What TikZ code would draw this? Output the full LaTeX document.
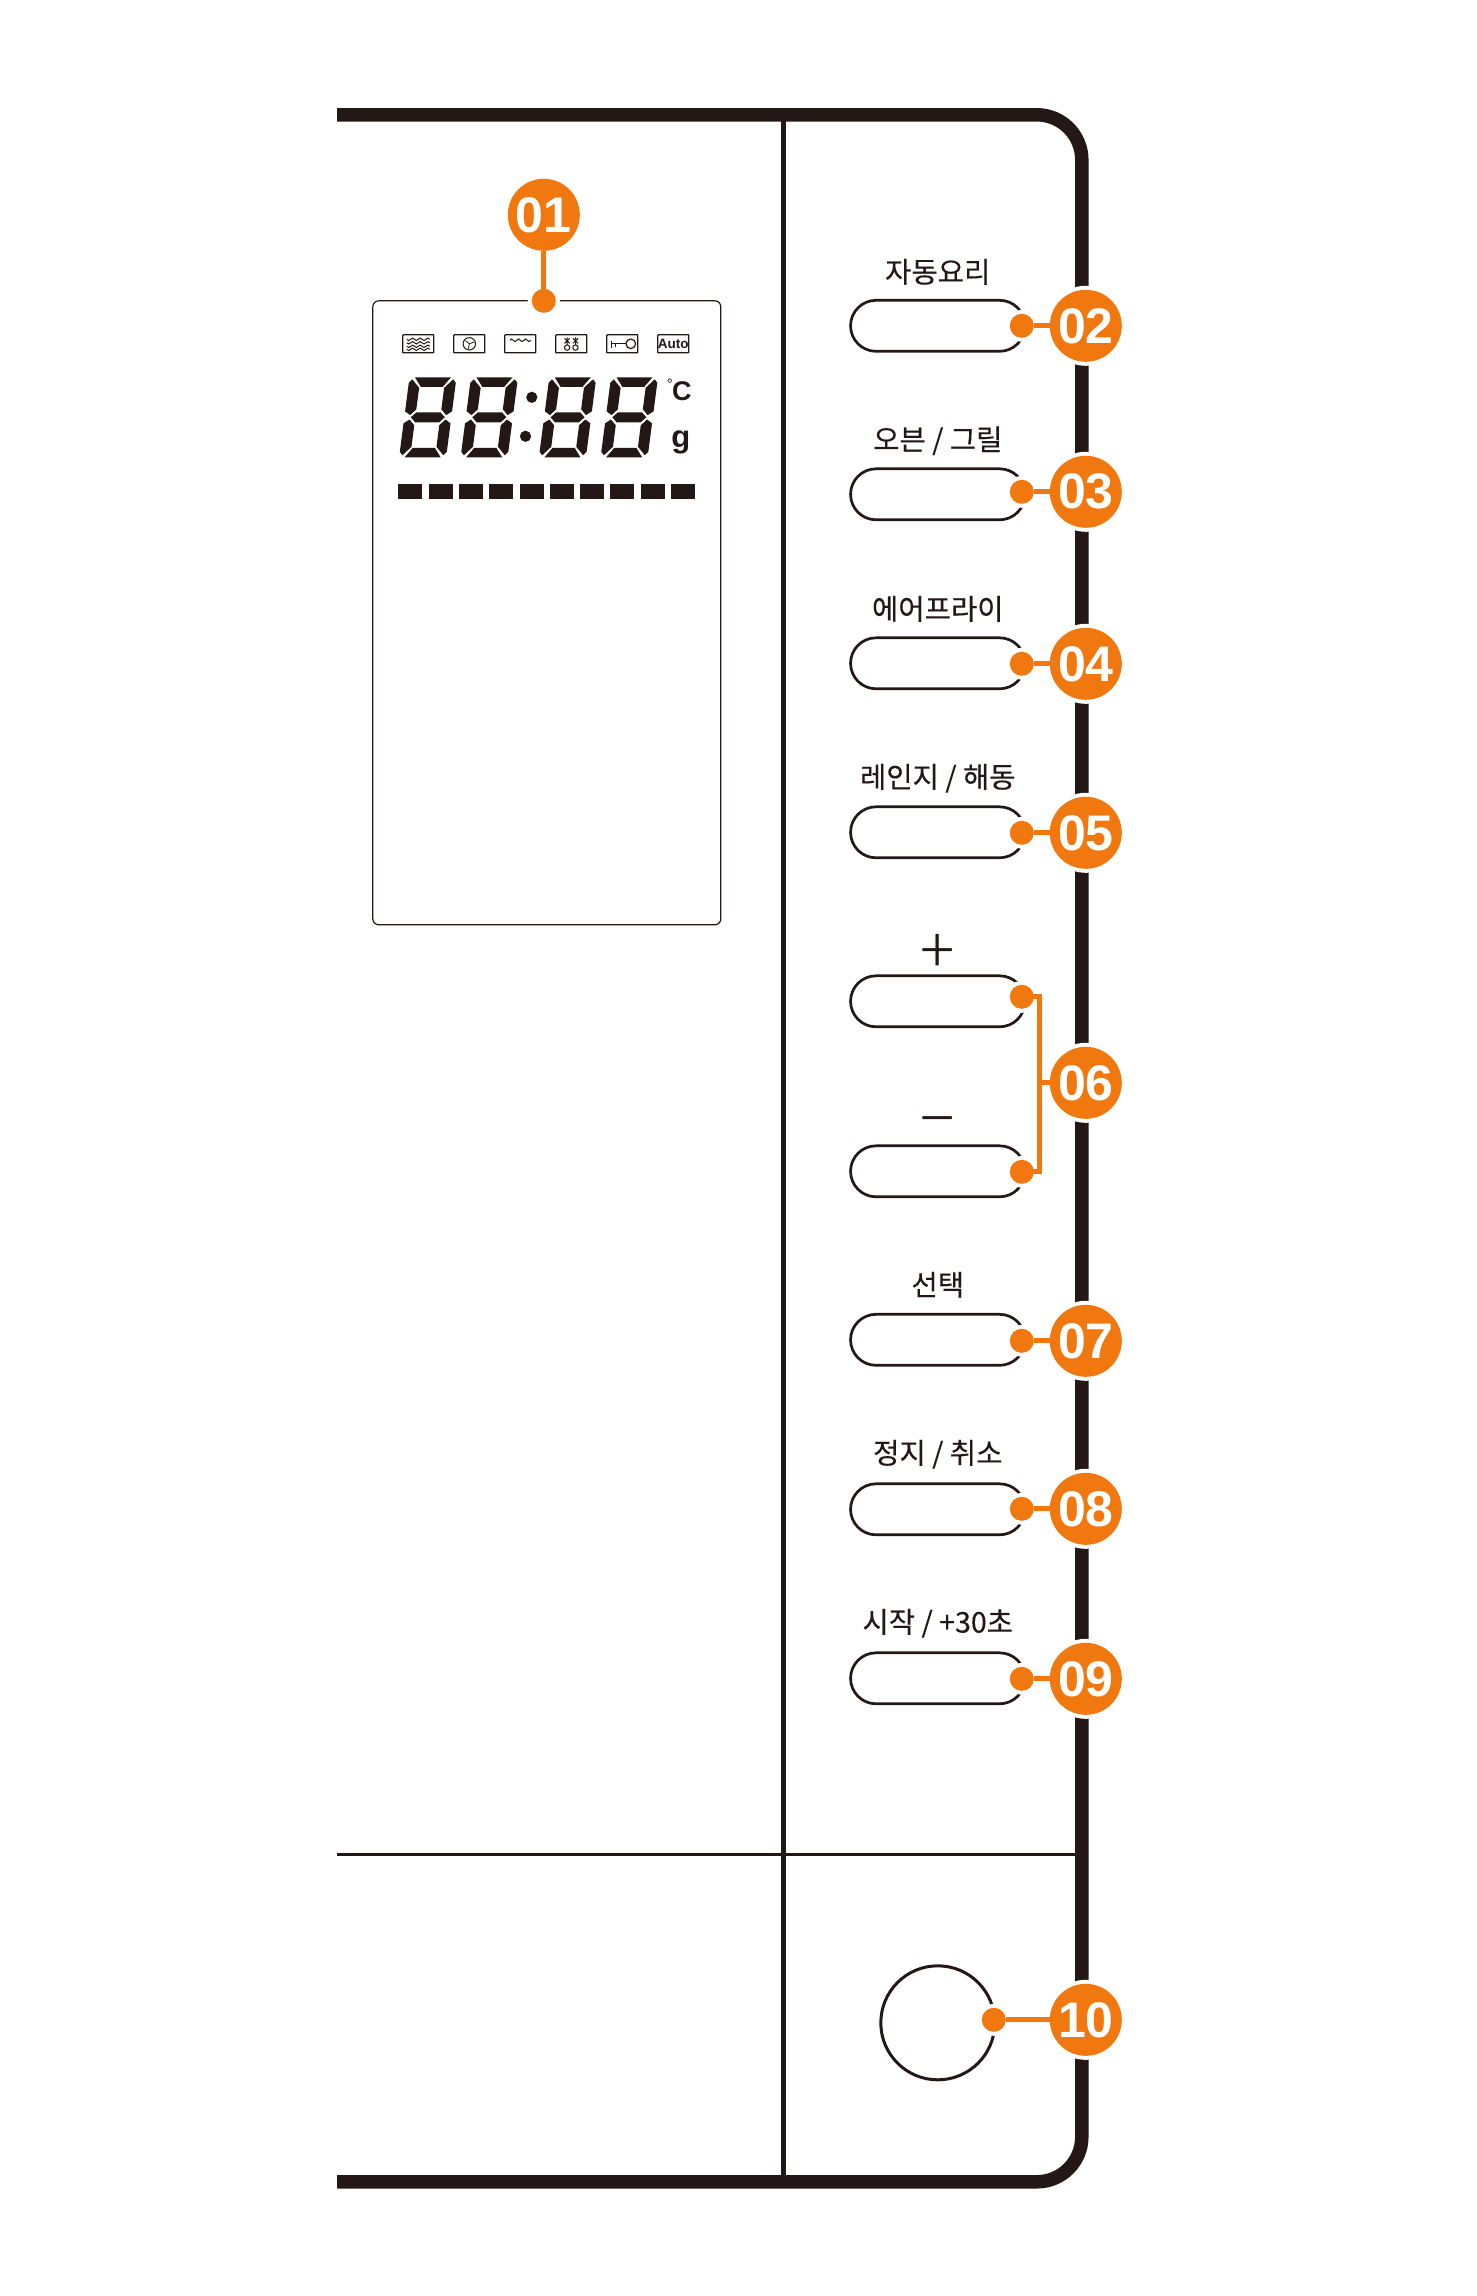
\documentclass[tikz,border=0pt]{standalone}
\usepackage{fontspec}
\setmainfont{Liberation Sans}
\newfontfamily\krfont[FakeBold=0.25]{Noto Sans CJK KR}
\newfontfamily\thinfont{Noto Sans CJK KR Light}
\definecolor{ink}{HTML}{231815}
\definecolor{tag}{HTML}{F0780F}
\newcommand\pxfont[1]{\fontsize{#1}{#1}\selectfont}
\tikzset{
  x=1pt,y=-1pt,
  halo/.style={preaction={draw=white,line width=8pt}},
  badge/.style={circle,fill=tag,halo,inner sep=0pt,outer sep=0pt,minimum size=72pt,text=white,font=\bfseries\pxfont{50}},
  tagdot/.style={circle,fill=tag,halo,inner sep=0pt,outer sep=0pt,minimum size=24pt},
  keypill/.style={draw=ink,line width=2.7pt,rounded corners=25.5pt,minimum width=174.5pt,minimum height=51pt,inner sep=0pt,outer sep=0pt},
  keylabel/.style={text=ink,font=\krfont\pxfont{28.6},inner sep=0pt},
  link/.style={draw=tag,line width=5pt},
  icon/.style={draw=ink,line width=1.3pt,rounded corners=.6pt},
  iconline/.style={draw=ink,line width=1pt},
}
\newcommand\sevenseg[2]{%
  \begin{scope}[shift={(#1,#2)},xslant=.13]
    \foreach \sy in {1,-1}{
      \fill[ink,cm={1,0,0,\sy,(0,0)}] (-18,-40) -- (18,-40) -- (11,-30.5) -- (-11,-30.5) -- cycle;
      \foreach \sx in {1,-1}{
        \fill[ink,cm={\sx,0,0,\sy,(0,0)}] (-23.5,-34.5) -- (-20.5,-38) -- (-12.5,-29.5) -- (-12.5,-8) -- (-18,-2.2) -- (-23.5,-6) -- cycle;
      }
    }
    \fill[ink] (-17,0) -- (-12,-5) -- (12,-5) -- (17,0) -- (12,5) -- (-12,5) -- cycle;
  \end{scope}}
\begin{document}
\begin{tikzpicture}
\useasboundingbox (0,0) rectangle (1476,2296);
\fill[white] (0,0) rectangle (1476,2296);
\begin{scope}[shift={(0.8,0.8)}]
% housing
\draw[ink,line width=13.5pt] (336.2,114) -- (1036,114) arc[start angle=90,end angle=0,radius=45pt] -- (1081,2136) arc[start angle=0,end angle=-90,radius=45pt] -- (336.2,2181);
\draw[ink,line width=5pt] (783,114) -- (783,2181);
\draw[ink,line width=3pt] (336.2,1853.5) -- (1078,1853.5);
% display
\node[draw=ink,line width=1.2pt,rounded corners=6pt,minimum width=348pt,minimum height=624pt,inner sep=0pt,outer sep=0pt] (screen) at (546,612) {};
% icons
\draw[icon] (402,334) rectangle (433,352);
\foreach \wy in {338.5,342,345.5,348.5}
  \draw[iconline] plot[domain=0:1,samples=13] ({406+\x*23},{\wy+1.2*sin(\x*1080)});
\draw[icon] (453,334) rectangle (484,352);
\draw[iconline] (468.5,343) circle[radius=6.2pt];
\foreach \a in {20,140,260}
  \draw[line width=.8pt,ink] (468.5,343) -- ++(\a:5pt);
\draw[icon] (504,352) -- (504,334) -- (535,334) -- (535,352) -- cycle;
\draw[iconline] plot[domain=0:1,samples=13] ({509+\x*21},{339.5-1.3*sin(\x*1080)});
\draw[icon] (555,334) rectangle (586,352);
\foreach \sx in {566.3,574.7}{
  \draw[iconline] (\sx,336.5) -- (\sx,344) (\sx-2.6,337.5) -- (\sx+2.6,342.5) (\sx+2.6,337.5) -- (\sx-2.6,342.5);
  \draw[iconline] (\sx,346.8) circle[radius=2.7pt];
}
\draw[icon] (606,334) rectangle (637,352);
\draw[line width=1.2pt,ink] (630,343) circle[radius=4.8pt];
\draw[line width=1.3pt,ink] (625.2,343) -- (610,343) (611,340.5) -- (611,347) (615,343) -- (615,346);
\draw[icon] (657,334) rectangle (688,352);
\node[font=\bfseries\pxfont{13.5},text=ink,inner sep=0pt] (autotxt) at (672.5,343) {Auto};
% seven segment read-out
\sevenseg{427}{416.5}
\sevenseg{488.5}{416.5}
\sevenseg{566.8}{416.5}
\sevenseg{628.5}{416.5}
\fill[ink] (531,396.5) circle[radius=5.6pt] (524.7,435.5) circle[radius=5.6pt];
\foreach \i in {0,...,9}
  \fill[ink] ({397.5+\i*30.3},483) rectangle ++(24,15);
\node[font=\bfseries\pxfont{27},text=ink,inner sep=0pt] (degc) at (681,390) {C};
\node[font=\pxfont{15},text=ink,inner sep=0pt] (degm) at (669,383.5) {°};
\node[font=\bfseries\pxfont{31},text=ink,inner sep=0pt] (gram) at (680,442) {g};
% keys
\node[keypill] (k2) at (937,325) {};
\node[keypill] (k3) at (937,493.5) {};
\node[keypill] (k4) at (937,662.5) {};
\node[keypill] (k5) at (937,831.5) {};
\node[keypill] (k6a) at (937,1000.5) {};
\node[keypill] (k6b) at (937,1170.5) {};
\node[keypill] (k7) at (937,1339) {};
\node[keypill] (k8) at (937,1508.5) {};
\node[keypill] (k9) at (937,1677.5) {};
\node[draw=ink,line width=3pt,circle,minimum size=114pt,inner sep=0pt] (knob) at (937,2022) {};
% labels
\node[keylabel] (l2) at (937,271) {자동요리};
\node[keylabel] (l3) at (937,440) {오븐 / 그릴};
\node[keylabel] (l4) at (937,608) {에어프라이};
\node[keylabel] (l5) at (937,777.5) {레인지 / 해동};
\node[text=ink,font=\thinfont\pxfont{64},inner sep=0pt] (l6a) at (937,953) {+};
\node[text=ink,font=\thinfont\pxfont{64},inner sep=0pt] (l6b) at (937,1128) {−};
\node[keylabel] (l7) at (937,1284) {선택};
\node[keylabel] (l8) at (937,1453.5) {정지 / 취소};
\node[keylabel] (l9) at (937,1622.5) {시작 / +30초};
% callouts
\node[tagdot] (d1) at (543,300) {};
\node[tagdot] (d2) at (1021,325) {};
\node[tagdot] (d3) at (1021,491) {};
\node[tagdot] (d4) at (1021,663) {};
\node[tagdot] (d5) at (1021,832) {};
\node[tagdot] (d6a) at (1021,996) {};
\node[tagdot] (d6b) at (1021,1171) {};
\node[tagdot] (d7) at (1021,1340) {};
\node[tagdot] (d8) at (1021,1508) {};
\node[tagdot] (d9) at (1021,1678) {};
\node[tagdot] (d10) at (993,2019) {};
\node[badge] (b1) at (543,214) {01};
\node[badge] (b2) at (1085,325) {02};
\node[badge] (b3) at (1085,491) {03};
\node[badge] (b4) at (1085,663) {04};
\node[badge] (b5) at (1085,832) {05};
\node[badge] (b6) at (1085,1082) {06};
\node[badge] (b7) at (1085,1340) {07};
\node[badge] (b8) at (1085,1508) {08};
\node[badge] (b9) at (1085,1678) {09};
\node[badge] (b10) at (1085,2019) {10};
\draw[link] (b1) -- (d1);
\draw[link] (d2) -- (b2);
\draw[link] (d3) -- (b3);
\draw[link] (d4) -- (b4);
\draw[link] (d5) -- (b5);
\draw[link] (d7) -- (b7);
\draw[link] (d8) -- (b8);
\draw[link] (d9) -- (b9);
\draw[link] (d10) -- (b10);
\coordinate (jt) at (1039,1082);
\draw[link] (d6a.center) -- (d6a.center -| jt) -- (d6b.center -| jt) -- (d6b.center);
\draw[link] (jt) -- (b6);
\end{scope}
\end{tikzpicture}
\end{document}
